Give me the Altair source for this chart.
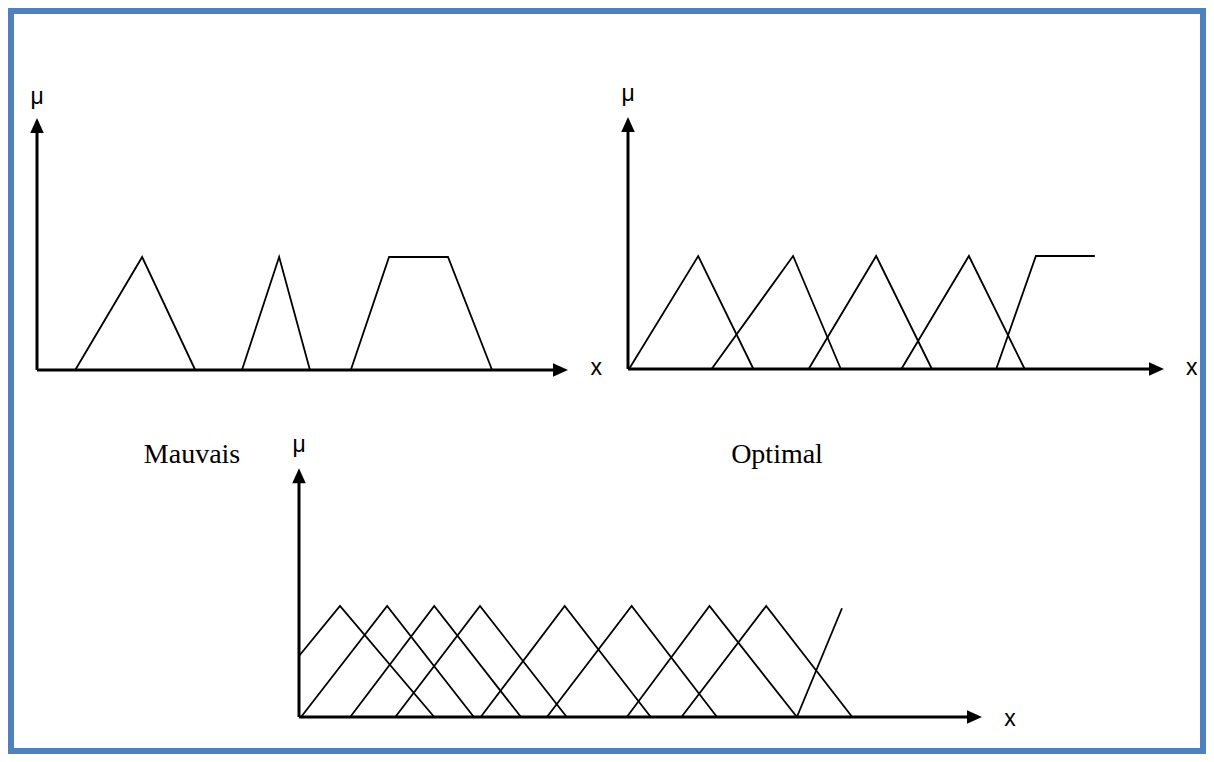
import altair as alt
import pandas as pd

# ---------------- data (x in % of each x-axis length, mu in membership units) ----------------
# Panel 1 : "Mauvais"
p1_x = [[7.2, 19.8, 29.8], [38.6, 45.6, 51.4], [59.1, 66.3, 77.4, 85.7]]
p1_mu = [[0, 1, 0], [0, 1, 0], [0, 1, 1, 0]]

# Panel 2 : "Optimal"
p2_x = [[0.2, 13.1, 23.4], [15.6, 30.8, 39.7], [33.7, 46.3, 56.7],
        [51.0, 63.6, 74.0], [68.7, 76.1, 87.1]]
p2_mu = [[0, 1, 0], [0, 1, 0], [0, 1, 0], [0, 1, 0], [0, 1, 1]]

# Panel 3 : too many partitions
p3_x = [[0.0, 6.0, 19.8], [0.3, 12.9, 25.6], [7.5, 19.8, 32.5], [14.1, 26.5, 39.2],
        [26.6, 38.9, 51.5], [36.3, 48.7, 61.2], [48.0, 60.1, 72.9], [56.0, 68.4, 81.0],
        [72.9, 79.5]]
p3_mu = [[0.55, 1, 0], [0, 1, 0], [0, 1, 0], [0, 1, 0], [0, 1, 0], [0, 1, 0],
         [0, 1, 0], [0, 1, 0], [0, 0.98]]

axis_label_mu = "μ"
axis_label_x = "x"
caption_left = "Mauvais"
caption_right = "Optimal"

# ---------------- layout ----------------
W, H = 1198, 746
BORDER = "#4F81BD"
SANS = "Liberation Sans"
SERIF = "Liberation Serif"

UP = "M0,0L-0.45,1L0.45,1Z"
RIGHT = "M0,0L-1,-0.45L-1,0.45Z"


def panel(xs, mus, xr, yr, ytip, mu_lab_y, x_lab_x, x_lab_y, captions):
    rows = []
    for i, (xx, mm) in enumerate(zip(xs, mus)):
        for j, (a, b) in enumerate(zip(xx, mm)):
            rows.append(dict(shape=i, order=j, x=a, mu=b))
    df = pd.DataFrame(rows)

    sx = alt.Scale(domain=[0, 100], range=xr, nice=False, zero=False)
    sy = alt.Scale(domain=[0, 1], range=yr, nice=False, zero=False)

    def enc(**kw):
        return dict(
            x=alt.X("x:Q", scale=sx, axis=None),
            y=alt.Y("mu:Q", scale=sy, axis=None),
            **kw,
        )

    curves = alt.Chart(df).mark_line(color="black", strokeWidth=1.8).encode(
        **enc(detail="shape:N", order="order:Q")
    )

    ax_df = pd.DataFrame(
        [dict(a="x", order=0, x=0, mu=0), dict(a="x", order=1, x=98, mu=0),
         dict(a="y", order=0, x=0, mu=0), dict(a="y", order=1, x=0, mu=ytip - 0.05)]
    )
    axes = alt.Chart(ax_df).mark_line(color="black", strokeWidth=3).encode(
        **enc(detail="a:N", order="order:Q")
    )

    up = alt.Chart(pd.DataFrame([dict(x=0, mu=ytip)])).mark_point(
        shape=UP, size=900, filled=True, color="black", opacity=1
    ).encode(**enc())
    right = alt.Chart(pd.DataFrame([dict(x=100, mu=0)])).mark_point(
        shape=RIGHT, size=900, filled=True, color="black", opacity=1
    ).encode(**enc())

    lab_df = pd.DataFrame(
        [dict(x=0, mu=mu_lab_y, t=axis_label_mu), dict(x=x_lab_x, mu=x_lab_y, t=axis_label_x)]
    )
    labels = alt.Chart(lab_df).mark_text(
        font=SANS, fontSize=23, color="black", align="center", baseline="alphabetic"
    ).encode(**enc(text="t:N"))

    layers = [curves, axes, up, right, labels]
    if captions:
        cap_df = pd.DataFrame([dict(x=c[0], mu=c[1], t=c[2]) for c in captions])
        layers.append(
            alt.Chart(cap_df).mark_text(
                font=SERIF, fontSize=28, color="black", align="center", baseline="alphabetic"
            ).encode(**enc(text="t:N"))
        )
    return alt.layer(*layers)


p1 = panel(p1_x, p1_mu, [29, 560], [362, 249], 2.23, 2.35, 105.3, -0.044,
           [(29.2, -0.82, caption_left)])
p2 = panel(p2_x, p2_mu, [620, 1156], [361, 248], 2.23, 2.37, 105.2, -0.053,
           [(27.8, -0.83, caption_right)])
p3 = panel(p3_x, p3_mu, [291, 974], [709, 598], 2.24, 2.39, 104.1, -0.081, [])

chart = (
    alt.layer(p1, p2, p3)
    .resolve_scale(x="independent", y="independent")
    .properties(width=W, height=H, padding=0, autosize=alt.AutoSizeParams(type="none"),
                background="white")
    .configure_view(stroke=BORDER, strokeWidth=12)
)

chart.save("out.html", embed_options={"renderer": "svg", "actions": False})
